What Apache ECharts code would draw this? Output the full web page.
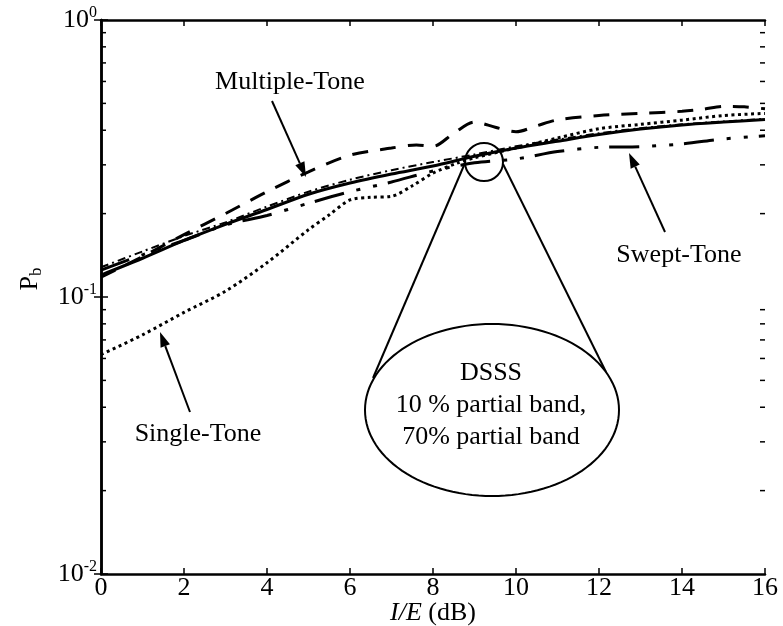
<!DOCTYPE html>
<html><head><meta charset="utf-8">
<script src="https://cdn.jsdelivr.net/npm/echarts@6/dist/echarts.min.js"></script>
<style>html,body{margin:0;padding:0;background:#fff}#c{width:783px;height:626px}</style>
</head><body><div id="c"></div>
<script>
// ---- data ----
const xTickValues = [0, 2, 4, 6, 8, 10, 12, 14, 16];
const yMajorValues = [0.01, 0.1, 1];
const yMinorValues = [0.02, 0.03, 0.04, 0.05, 0.06, 0.07, 0.08, 0.09, 0.2, 0.3, 0.4, 0.5, 0.6, 0.7, 0.8, 0.9];

const dsss10X = [0, 1, 2, 3, 4, 5, 6, 7, 8, 9, 10, 11, 12, 13, 14, 15, 16];
const dsss10Y = [0.120, 0.138, 0.160, 0.183, 0.207, 0.235, 0.258, 0.278, 0.297, 0.322, 0.345, 0.365, 0.386, 0.404, 0.418, 0.428, 0.437];

const dsss70X = [0, 1, 2, 3, 4, 5, 6, 7, 8, 9, 10, 11, 12, 13, 14, 15, 16];
const dsss70Y = [0.128, 0.146, 0.166, 0.186, 0.212, 0.240, 0.265, 0.287, 0.307, 0.327, 0.350, 0.370, 0.390, 0.407, 0.420, 0.430, 0.440];

const multiX = [0, 1, 2, 3, 4, 5, 6, 7, 7.6, 8, 8.5, 9, 9.5, 10, 10.5, 11, 12, 13, 14, 14.5, 15, 15.5, 16];
const multiY = [0.118, 0.140, 0.168, 0.200, 0.240, 0.283, 0.325, 0.345, 0.354, 0.350, 0.390, 0.428, 0.410, 0.395, 0.415, 0.436, 0.452, 0.460, 0.468, 0.476, 0.488, 0.486, 0.478];

const singleX = [0, 1, 2, 3, 4, 5, 5.5, 6, 6.5, 7, 7.5, 8, 8.6, 9, 10, 11, 12, 13, 14, 15, 16];
const singleY = [0.062, 0.073, 0.088, 0.105, 0.133, 0.175, 0.198, 0.224, 0.229, 0.231, 0.252, 0.280, 0.305, 0.318, 0.345, 0.375, 0.405, 0.420, 0.435, 0.452, 0.460];

const sweptX = [0, 1, 2, 3, 4, 5, 6, 7, 8, 9, 10, 11, 12, 13, 14, 15, 16];
const sweptY = [0.125, 0.142, 0.160, 0.182, 0.197, 0.218, 0.240, 0.260, 0.285, 0.305, 0.315, 0.335, 0.347, 0.349, 0.357, 0.372, 0.382];

// ---- helpers ----
const FONT = '"Liberation Serif", "DejaVu Serif", serif';
const pairs = (xs, ys) => xs.map((x, i) => [x, ys[i]]);

function arrow(x1, y1, x2, y2) {
  const dx = x2 - x1, dy = y2 - y1, L = Math.hypot(dx, dy);
  const ux = dx / L, uy = dy / L, hl = 15, hw = 5;
  const bx = x2 - ux * hl, by = y2 - uy * hl;
  return [
    { type: 'line', shape: { x1, y1, x2: bx, y2: by }, style: { stroke: '#000', lineWidth: 2 } },
    { type: 'polygon', shape: { points: [[x2, y2], [bx - uy * hw, by + ux * hw], [bx + uy * hw, by - ux * hw]] }, style: { fill: '#000' } }
  ];
}
function label(text, x, y, extra) {
  return Object.assign({ type: 'text', x, y, style: { text, fontFamily: FONT, fontSize: 26, fill: '#000', textAlign: 'center', textVerticalAlign: 'middle' } }, extra || {});
}
function ellipsePts(cx, cy, rx, ry) {
  const p = [];
  for (let i = 0; i < 120; i++) { const a = i / 120 * Math.PI * 2; p.push([cx + rx * Math.cos(a), cy + ry * Math.sin(a)]); }
  return p;
}

const chart = echarts.init(document.getElementById('c'), null, { renderer: 'canvas' });

const axisLine = { show: true, lineStyle: { color: '#000', width: 2.5 } };
const lineSeries = (name, data, type, width) => ({
  name, type: 'line', data, showSymbol: false, smooth: 0.3, z: 3,
  lineStyle: { color: '#000', width, type, cap: 'butt' }
});

chart.setOption({
  animation: false,
  backgroundColor: '#fff',
  grid: { left: 101, right: 18, top: 20, bottom: 52, containLabel: false, outerBoundsMode: 'none' },
  xAxis: [
    {
      type: 'value', min: 0, max: 16, interval: 2, position: 'bottom',
      axisLine, splitLine: { show: false },
      axisTick: { inside: true, length: 6, lineStyle: { color: '#000', width: 1.5 } },
      axisLabel: { fontFamily: FONT, fontSize: 26, color: '#000', margin: 1 }
    },
    {
      type: 'value', min: 0, max: 16, interval: 2, position: 'top',
      axisLine, splitLine: { show: false }, axisLabel: { show: false },
      axisTick: { inside: true, length: 6, lineStyle: { color: '#000', width: 1.5 } }
    }
  ],
  yAxis: [
    {
      type: 'log', logBase: 10, min: 0.01, max: 1, position: 'left',
      axisLine, splitLine: { show: false }, minorTick: { show: false },
      axisTick: { inside: true, length: 7, lineStyle: { color: '#000', width: 1.5 } },
      axisLabel: {
        margin: 4,
        formatter: v => '{a|10}{b|' + Math.round(Math.log10(v)) + '}',
        rich: {
          a: { fontFamily: FONT, fontSize: 26, color: '#000', lineHeight: 30 },
          b: { fontFamily: FONT, fontSize: 16, color: '#000', lineHeight: 16, verticalAlign: 'top' }
        }
      }
    },
    {
      type: 'log', logBase: 10, min: 0.01, max: 1, position: 'right',
      axisLine, splitLine: { show: false }, axisLabel: { show: false },
      axisTick: { inside: true, length: 7, lineStyle: { color: '#000', width: 1.5 } }
    }
  ],
  series: [
    {
      type: 'custom', silent: true, clip: false, z: 2,
      data: yMinorValues.map(v => [0, v]),
      renderItem(params, api) {
        const v = api.value(1);
        const l = api.coord([0, v]), r = api.coord([16, v]);
        return { type: 'group', children: [
          { type: 'line', shape: { x1: l[0], y1: l[1], x2: l[0] + 5, y2: l[1] }, style: { stroke: '#000', lineWidth: 1.5 } },
          { type: 'line', shape: { x1: r[0], y1: r[1], x2: r[0] - 5, y2: r[1] }, style: { stroke: '#000', lineWidth: 1.5 } }
        ] };
      }
    },
    lineSeries('DSSS 10% partial band', pairs(dsss10X, dsss10Y), 'solid', 3),
    lineSeries('DSSS 70% partial band', pairs(dsss70X, dsss70Y), [8, 4, 2, 4], 2),
    lineSeries('Multiple-Tone', pairs(multiX, multiY), [16, 12], 3),
    lineSeries('Single-Tone', pairs(singleX, singleY), [3, 3.5], 3),
    lineSeries('Swept-Tone', pairs(sweptX, sweptY), [30, 13, 4, 13, 4, 11], 3)
  ],
  graphic: [
    label('Multiple-Tone', 290, 82),
    ...arrow(272, 101, 306, 177),
    label('Swept-Tone', 679, 255),
    ...arrow(665, 232, 629, 153),
    label('Single-Tone', 198, 434),
    ...arrow(190, 412, 160, 332),
    { type: 'circle', shape: { cx: 484, cy: 162, r: 19 }, style: { fill: 'none', stroke: '#000', lineWidth: 2 }, z: 10 },
    { type: 'line', shape: { x1: 465, y1: 163, x2: 373, y2: 378 }, style: { stroke: '#000', lineWidth: 2 }, z: 10 },
    { type: 'line', shape: { x1: 503, y1: 164, x2: 606, y2: 372 }, style: { stroke: '#000', lineWidth: 2 }, z: 10 },
    { type: 'polygon', shape: { points: ellipsePts(492, 410, 127, 86) }, style: { fill: '#fff', stroke: '#000', lineWidth: 2 }, z: 11 },
    label('DSSS', 491, 373, { z: 12 }),
    label('10 % partial band,', 491, 405, { z: 12 }),
    label('70% partial band', 491, 437, { z: 12 }),
    {
      type: 'text', x: 433, y: 613, z: 12,
      style: {
        text: '{i|I/E} (dB)', textAlign: 'center', textVerticalAlign: 'middle',
        fontFamily: FONT, fontSize: 26, fill: '#000',
        rich: { i: { fontFamily: FONT, fontSize: 26, fontStyle: 'italic', fill: '#000' } }
      }
    },
    {
      type: 'text', x: 30, y: 279, rotation: Math.PI / 2, z: 12,
      style: {
        text: '{p|P}{s|b}', textAlign: 'center', textVerticalAlign: 'middle',
        rich: {
          p: { fontFamily: FONT, fontSize: 26, fill: '#000', lineHeight: 30 },
          s: { fontFamily: FONT, fontSize: 17, fill: '#000', lineHeight: 17, verticalAlign: 'bottom' }
        }
      }
    }
  ]
});
</script></body></html>
